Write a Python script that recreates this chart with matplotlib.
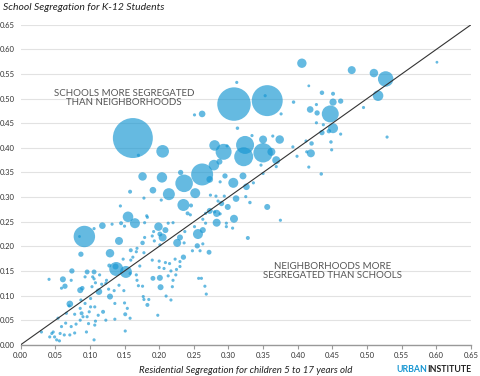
import numpy as np
import matplotlib
matplotlib.use('Agg')
import matplotlib.pyplot as plt

plt.rcParams['font.family'] = ['Lato', 'DejaVu Sans']

# ===== data: residential vs school segregation, bubble = enrollment (thousands) =====
res_seg = [
    0.406, 0.478, 0.510, 0.527, 0.601, 0.516, 0.495, 0.529, 0.416, 0.435,
    0.451, 0.451, 0.462, 0.418, 0.427, 0.428, 0.447, 0.451, 0.435, 0.445,
    0.427, 0.437, 0.462, 0.448, 0.449, 0.420, 0.412, 0.419, 0.413, 0.416,
    0.434, 0.399, 0.393, 0.394, 0.376, 0.356, 0.353, 0.308, 0.374, 0.364,
    0.350, 0.334, 0.324, 0.350, 0.362, 0.369, 0.322, 0.369, 0.350, 0.347,
    0.321, 0.336, 0.326, 0.325, 0.331, 0.356, 0.375, 0.328, 0.308, 0.283,
    0.311, 0.299, 0.294, 0.282, 0.274, 0.290, 0.285, 0.273, 0.267, 0.288,
    0.297, 0.306, 0.263, 0.256, 0.263, 0.272, 0.259, 0.261, 0.268, 0.257,
    0.162, 0.170, 0.205, 0.176, 0.204, 0.158, 0.191, 0.214, 0.203, 0.178,
    0.231, 0.236, 0.252, 0.262, 0.273, 0.279, 0.287, 0.280, 0.293, 0.298,
    0.288, 0.235, 0.283, 0.199, 0.183, 0.155, 0.165, 0.262, 0.251, 0.312,
    0.313, 0.295, 0.307, 0.092, 0.087, 0.085, 0.118, 0.106, 0.129, 0.142,
    0.132, 0.144, 0.246, 0.241, 0.245, 0.220, 0.213, 0.209, 0.201, 0.205,
    0.192, 0.190, 0.193, 0.182, 0.179, 0.145, 0.150, 0.179, 0.176, 0.168,
    0.167, 0.178, 0.159, 0.162, 0.148, 0.128, 0.137, 0.138, 0.152, 0.159,
    0.172, 0.167, 0.168, 0.170, 0.149, 0.142, 0.129, 0.127, 0.123, 0.124,
    0.114, 0.113, 0.103, 0.106, 0.104, 0.106, 0.096, 0.093, 0.089, 0.086,
    0.074, 0.073, 0.061, 0.064, 0.059, 0.041, 0.071, 0.087, 0.093, 0.086,
    0.078, 0.070, 0.066, 0.088, 0.090, 0.086, 0.080, 0.073, 0.078, 0.065,
    0.059, 0.054, 0.047, 0.049, 0.045, 0.057, 0.063, 0.052, 0.056, 0.030,
    0.042, 0.071, 0.095, 0.098, 0.107, 0.101, 0.099, 0.107, 0.096, 0.108,
    0.106, 0.123, 0.119, 0.112, 0.136, 0.150, 0.154, 0.151, 0.158, 0.151,
    0.136, 0.198, 0.178, 0.183, 0.185, 0.191, 0.201, 0.202, 0.210, 0.217,
    0.219, 0.220, 0.224, 0.225, 0.223, 0.215, 0.209, 0.200, 0.207, 0.230,
    0.217, 0.230, 0.235, 0.266, 0.248, 0.255, 0.251, 0.263, 0.267, 0.280,
    0.297, 0.201, 0.230, 0.226, 0.237, 0.236, 0.190, 0.200, 0.213, 0.176,
    0.158, 0.135, 0.177, 0.108, 0.117, 0.101,
]
school_seg = [
    0.572, 0.558, 0.552, 0.540, 0.574, 0.506, 0.482, 0.422, 0.526, 0.512,
    0.510, 0.493, 0.495, 0.478, 0.488, 0.471, 0.469, 0.440, 0.431, 0.434,
    0.451, 0.447, 0.428, 0.412, 0.396, 0.409, 0.414, 0.389, 0.392, 0.361,
    0.347, 0.383, 0.402, 0.493, 0.469, 0.496, 0.506, 0.489, 0.417, 0.424,
    0.417, 0.425, 0.406, 0.390, 0.392, 0.375, 0.382, 0.362, 0.348, 0.365,
    0.343, 0.329, 0.321, 0.301, 0.289, 0.280, 0.253, 0.217, 0.256, 0.248,
    0.297, 0.280, 0.302, 0.302, 0.304, 0.287, 0.292, 0.272, 0.267, 0.266,
    0.247, 0.237, 0.233, 0.225, 0.205, 0.188, 0.191, 0.135, 0.103, 0.135,
    0.420, 0.385, 0.393, 0.342, 0.340, 0.311, 0.314, 0.306, 0.294, 0.298,
    0.350, 0.328, 0.308, 0.346, 0.336, 0.365, 0.372, 0.405, 0.392, 0.404,
    0.331, 0.284, 0.267, 0.240, 0.259, 0.260, 0.247, 0.469, 0.467, 0.533,
    0.440, 0.343, 0.329, 0.220, 0.184, 0.220, 0.242, 0.236, 0.186, 0.211,
    0.245, 0.282, 0.283, 0.267, 0.264, 0.248, 0.247, 0.233, 0.225, 0.218,
    0.230, 0.221, 0.211, 0.262, 0.248, 0.247, 0.241, 0.218, 0.207, 0.196,
    0.189, 0.187, 0.192, 0.178, 0.174, 0.161, 0.159, 0.154, 0.148, 0.172,
    0.160, 0.142, 0.131, 0.120, 0.110, 0.121, 0.098, 0.113, 0.125, 0.131,
    0.142, 0.108, 0.118, 0.134, 0.138, 0.148, 0.148, 0.138, 0.115, 0.111,
    0.150, 0.131, 0.133, 0.119, 0.115, 0.133, 0.083, 0.091, 0.084, 0.074,
    0.062, 0.079, 0.064, 0.064, 0.057, 0.050, 0.042, 0.037, 0.024, 0.044,
    0.037, 0.054, 0.026, 0.016, 0.023, 0.023, 0.020, 0.010, 0.008, 0.026,
    0.016, 0.020, 0.026, 0.043, 0.040, 0.077, 0.067, 0.077, 0.057, 0.048,
    0.010, 0.050, 0.067, 0.060, 0.084, 0.085, 0.074, 0.062, 0.054, 0.028,
    0.052, 0.060, 0.092, 0.081, 0.092, 0.135, 0.136, 0.117, 0.099, 0.091,
    0.118, 0.131, 0.142, 0.153, 0.174, 0.165, 0.167, 0.170, 0.155, 0.169,
    0.150, 0.159, 0.178, 0.119, 0.191, 0.201, 0.240, 0.255, 0.247, 0.270,
    0.240, 0.203, 0.218, 0.207, 0.230, 0.207, 0.172, 0.157, 0.140, 0.119,
    0.145, 0.110, 0.098, 0.126, 0.123, 0.094,
]
enrollment = [
    22, 16, 18, 60, 2, 28, 2.5, 2.5, 2, 5,
    4, 13, 7, 11, 2.5, 7, 72, 25, 7, 5,
    2.5, 2.5, 2.5, 3, 2.5, 5, 2.5, 16, 2.5, 2.5,
    3, 2.5, 2.5, 3, 2.5, 240, 2.5, 280, 18, 2.5,
    16, 2.5, 81, 94, 16, 16, 90, 2.5, 2.5, 2.5,
    12, 2.5, 11, 2.5, 3, 9, 2.5, 4, 16, 16,
    11, 9, 2.5, 2.5, 2.5, 7, 2.5, 9, 2.5, 2.5,
    2.5, 2.5, 9, 25, 2.5, 6, 2.5, 2.5, 2.5, 2.5,
    400, 2.5, 40, 18, 27, 4, 11, 36, 2.5, 2.5,
    7, 77, 25, 121, 11, 28, 9, 28, 64, 2.5,
    2.5, 36, 13, 18, 2.5, 28, 25, 11, 2.5, 2.5,
    3, 7, 25, 115, 7, 2, 11, 2.5, 18, 16,
    2.5, 2.5, 4, 4, 2.5, 2.5, 2.5, 9, 6, 16,
    2.5, 2.5, 2.5, 2.5, 2.5, 4, 2.5, 2.5, 5, 2.5,
    2.5, 2.5, 4, 2.5, 2.5, 4, 9, 49, 36, 2.5,
    2.5, 2.5, 2.5, 2.5, 2.5, 2.5, 9, 2.5, 2.5, 2.5,
    2.5, 11, 2.5, 2.5, 2.5, 6, 6, 2.5, 5, 9,
    7, 2.5, 9, 7, 2.5, 2.5, 11, 2.5, 2.5, 2.5,
    2.5, 2.5, 2.5, 4, 2.5, 2.5, 2.5, 2.5, 2.5, 2.5,
    2.5, 2.5, 2.5, 2.5, 2.5, 2.5, 2.5, 2.5, 2.5, 2.5,
    2.5, 2.5, 2.5, 2.5, 2.5, 2.5, 2.5, 2.5, 2.5, 2.5,
    2.5, 2.5, 4, 2.5, 2.5, 2.5, 2.5, 4, 2.5, 2.5,
    2.5, 2.5, 2.5, 4, 2.5, 6, 9, 9, 2.5, 2.5,
    2.5, 2.5, 2.5, 2.5, 2.5, 2.5, 2.5, 2.5, 2.5, 2.5,
    2.5, 2.5, 7, 2.5, 2.5, 7, 2.5, 2.5, 2.5, 2.5,
    2.5, 2.5, 9, 16, 2.5, 2.5, 2.5, 2.5, 2.5, 2.5,
    2.5, 2.5, 2.5, 2.5, 2.5, 2.5,
]
ticks = np.arange(0, 0.651, 0.05)

x = np.array(res_seg)
y = np.array(school_seg)
e = np.array(enrollment)
order = np.argsort(-e)  # big bubbles first, small ones on top

# ===== plot =====
fig = plt.figure(figsize=(4.8, 3.76), dpi=100)
ax = fig.add_axes([0.043, 0.083, 0.938, 0.851])

ax.scatter(x[order], y[order], s=e[order] * 2.07, color='#1696d2', alpha=0.66,
           edgecolors='none', zorder=3)
ax.plot([0, 0.65], [0, 0.65], color='#333333', lw=0.8, zorder=4)

ax.set_xlim(0, 0.65); ax.set_ylim(0, 0.65)
ax.set_xticks(ticks); ax.set_yticks(ticks)
ax.set_xticklabels([f'{t:.2f}' for t in ticks])
ax.set_yticklabels([f'{t:.2f}' for t in ticks])
ax.tick_params(axis='x', length=3, width=0.8, color='#999999', labelsize=5.5,
               labelcolor='#333333', pad=2)
ax.tick_params(axis='y', length=0, labelsize=5.5, labelcolor='#333333', pad=4)
for side in ['top', 'right', 'left']:
    ax.spines[side].set_visible(False)
ax.spines['bottom'].set_color('#999999')
ax.spines['bottom'].set_linewidth(1)
ax.yaxis.grid(True, color='#e2e2e2', lw=0.8)
ax.set_axisbelow(True)

ax.text(0.149, 0.501, 'SCHOOLS MORE SEGREGATED\nTHAN NEIGHBORHOODS', ha='center', va='center',
        fontsize=7, color='#555555', linespacing=1.0)
ax.text(0.450, 0.150, 'NEIGHBORHOODS MORE\nSEGREGATED THAN SCHOOLS', ha='center', va='center',
        fontsize=7, color='#555555', linespacing=1.0)

fig.text(0.006, 1 - 7 / 376, 'School Segregation for K-12 Students', ha='left', va='center',
         fontsize=7.5, style='italic', color='#222222')
ax.set_xlabel('Residential Segregation for children 5 to 17 years old', fontsize=7,
              style='italic', color='#222222', labelpad=5)
fig.text(0.826, 1 - 369 / 376, 'URBAN', ha='left', va='center', fontsize=6.3,
         fontweight='bold', color='#1696d2')
fig.text(0.891, 1 - 369 / 376, 'INSTITUTE', ha='left', va='center', fontsize=6.3,
         fontweight='bold', color='#222222')

plt.savefig('out.png', dpi=100)
